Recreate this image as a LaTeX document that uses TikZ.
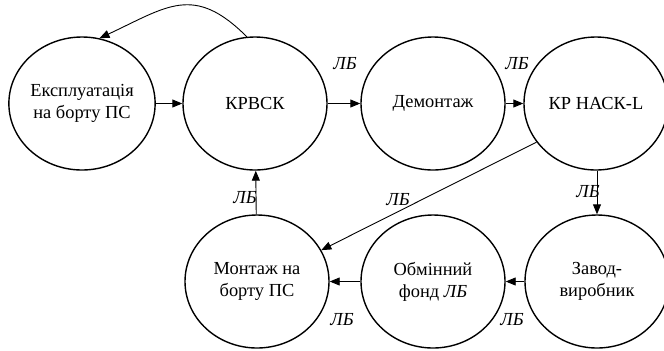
\documentclass[tikz,border=0pt]{standalone}
\usepackage{fontspec}
\setmainfont{Liberation Serif}
\usetikzlibrary{arrows.meta,shapes.geometric}

\begin{document}
\begin{tikzpicture}[
    x=0.5pt,y=-0.5pt,
    stage/.style={draw,ellipse,line width=0.7pt,minimum width=72pt,minimum height=66.5pt,inner sep=0pt,align=center,font=\fontsize{9.2}{11}\selectfont},
    arr/.style={-{Triangle[length=5pt,width=4pt]},line width=0.45pt},
    lbl/.style={inner sep=0pt,font=\fontsize{9.2}{11}\selectfont\itshape}
  ]
    \useasboundingbox (0,0) rectangle (664,350);
    \node[stage] (ekspl) at (82,103.5) {Експлуатація\\на борту ПС};
    \node[stage] (krvsk) at (255,103.5) {КРВСК};
    \node[stage] (demont) at (433,103.5) {Демонтаж};
    \node[stage] (krhack) at (596,103.5) {КР НАСК-L};
    \node[stage] (montazh) at (257,281.5) {Монтаж на\\борту ПС};
    \node[stage] (obmin) at (433,281.5) {Обмінний\\фонд \textit{ЛБ}};
    \node[stage] (zavod) at (597,281.5) {Завод-\\виробник};
    \draw[arr] (ekspl) -- (krvsk);
    \draw[arr] (krvsk) -- (demont);
    \draw[arr] (demont) -- (krhack);
    \draw[arr] (krhack.south -| zavod.north) -- (zavod.north);
    \draw[arr] (zavod) -- (obmin);
    \draw[arr] (obmin) -- (montazh);
    \draw[arr] (montazh) -- (krvsk);
    \draw[arr] (krhack.213) -- (montazh.26);
    \draw[arr] (krvsk.97) to[out=135,in=25,looseness=1.3] (ekspl.75);
    \node[lbl] (lb1) at (345,64) {ЛБ};
    \node[lbl] (lb2) at (517,64) {ЛБ};
    \node[lbl] (lb3) at (588,192) {ЛБ};
    \node[lbl] (lb4) at (512,320) {ЛБ};
    \node[lbl] (lb5) at (342,320) {ЛБ};
    \node[lbl] (lb6) at (245,198) {ЛБ};
    \node[lbl] (lb7) at (398,200) {ЛБ};
  \end{tikzpicture}
\end{document}
